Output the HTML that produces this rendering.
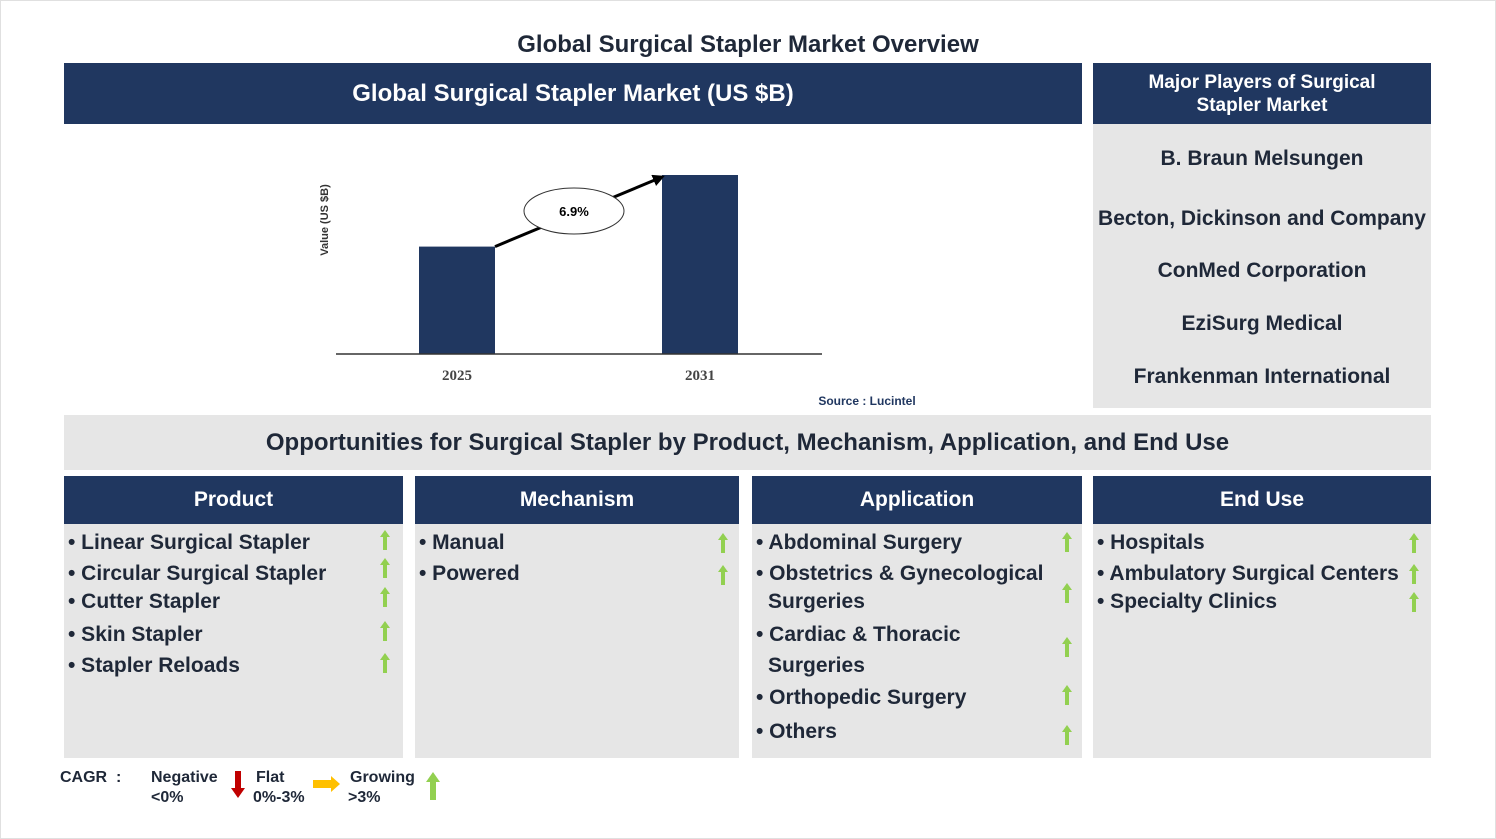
<!DOCTYPE html>
<html><head><meta charset="utf-8">
<style>
body{margin:0;width:1496px;height:839px;overflow:hidden;background:#fff;font-family:"Liberation Sans",Arial,sans-serif;}
#page{position:relative;width:1496px;height:839px;}
#border{position:absolute;left:0;top:0;width:1494px;height:837px;border:1px solid #e0e0e0;}
.a{position:absolute;}
.navy{background:#203760;color:#fff;font-weight:bold;display:flex;align-items:center;justify-content:center;text-align:center;}
.grey{background:#e6e6e6;}
.t{position:absolute;font-weight:bold;font-size:21px;color:#1f2838;white-space:nowrap;line-height:24px;transform:translateY(-12px);}
.c{text-align:center;}
.up{position:absolute;width:10px;height:20px;}
</style></head><body>
<div id="page">
<div id="border"></div>
<div class="a" style="left:0;width:1496px;top:31px;text-align:center;font-weight:bold;font-size:24px;color:#1f2838;">Global Surgical Stapler Market Overview</div>
<div class="a navy" style="left:64px;top:63px;width:1018px;height:61px;font-size:24px;">Global Surgical Stapler Market (US $B)</div>
<div class="a navy" style="left:1093px;top:63px;width:338px;height:61px;font-size:19px;line-height:23px;">Major Players of Surgical<br>Stapler Market</div>
<div class="a grey" style="left:1093px;top:124px;width:338px;height:284px;"></div>
<div class="t c" style="left:1093px;width:338px;top:159px;">B. Braun Melsungen</div>
<div class="t c" style="left:1093px;width:338px;top:219px;">Becton, Dickinson and Company</div>
<div class="t c" style="left:1093px;width:338px;top:271px;">ConMed Corporation</div>
<div class="t c" style="left:1093px;width:338px;top:324px;">EziSurg Medical</div>
<div class="t c" style="left:1093px;width:338px;top:377px;">Frankenman International</div>

<svg class="a" style="left:0;top:0" width="1496" height="420">
<defs><marker id="ah" markerWidth="4" markerHeight="4" refX="3" refY="2" orient="auto"><path d="M0,0 L4,2 L0,4 z" fill="#000"/></marker></defs>
<g id="chart"></g>
<text x="328" y="220" transform="rotate(-90 328 220)" text-anchor="middle" font-size="11" font-weight="bold" fill="#333" font-family="Liberation Sans">Value (US $B)</text>
<text x="867" y="405" text-anchor="middle" font-size="12" font-weight="bold" fill="#203760" font-family="Liberation Sans">Source : Lucintel</text>
</svg>

<div class="a grey" style="left:64px;top:415px;width:1367px;height:55px;display:flex;align-items:center;justify-content:center;font-weight:bold;font-size:24px;color:#1f2838;">Opportunities for Surgical Stapler by Product, Mechanism, Application, and End Use</div>

<div class="a navy" style="left:64px;top:476px;width:339px;height:48px;font-size:21px;">Product</div>
<div class="a navy" style="left:415px;top:476px;width:324px;height:48px;font-size:21px;">Mechanism</div>
<div class="a navy" style="left:752px;top:476px;width:330px;height:48px;font-size:21px;">Application</div>
<div class="a navy" style="left:1093px;top:476px;width:338px;height:48px;font-size:21px;">End Use</div>
<div class="a grey" style="left:64px;top:524px;width:339px;height:234px;"></div>
<div class="a grey" style="left:415px;top:524px;width:324px;height:234px;"></div>
<div class="a grey" style="left:752px;top:524px;width:330px;height:234px;"></div>
<div class="a grey" style="left:1093px;top:524px;width:338px;height:234px;"></div>
<div id="items"></div>

<div class="a" style="left:0;top:0;">
<div class="t" style="left:60px;top:778px;font-size:16px;">CAGR &nbsp;:</div>
<div class="t" style="left:151px;top:778px;font-size:16px;">Negative</div>
<div class="t" style="left:151px;top:798px;font-size:16px;">&lt;0%</div>
<svg class="a" style="left:231px;top:771px" width="14" height="28"><path d="M4,0 H10 V17 H14 L7,27 L0,17 H4 Z" fill="#c00000"/></svg>
<div class="t" style="left:256px;top:778px;font-size:16px;">Flat</div>
<div class="t" style="left:253px;top:798px;font-size:16px;">0%-3%</div>
<svg class="a" style="left:313px;top:776px" width="28" height="16"><path d="M0,4 H18 V0 L27,8 L18,16 V12 H0 Z" fill="#ffc000"/></svg>
<div class="t" style="left:350px;top:778px;font-size:16px;">Growing</div>
<div class="t" style="left:348px;top:798px;font-size:16px;">&gt;3%</div>
<svg class="a" style="left:426px;top:772px" width="14" height="28"><path d="M4,28 V10 H0 L7,0 L14,10 H10 V28 Z" fill="#92d050"/></svg>
</div>
</div>
<script>
const categories = ["2025","2031"];
const values = [3.6, 6.0];
const cagrLabel = "6.9%";
const yMax = 6.0;
const NS="http://www.w3.org/2000/svg";
const g=document.getElementById('chart');
const base=354, topY=175, x0=336, x1=822;
function y(v){return base-(v/yMax)*(base-topY);}
function xc(i){return 457+i*243;}
function mk(t,a){const e=document.createElementNS(NS,t);for(const k in a)e.setAttribute(k,a[k]);g.appendChild(e);return e;}
const bw=76;
values.forEach((v,i)=>{
  const r=mk('rect',{x:xc(i)-bw/2,y:y(v),width:bw,height:base-y(v),fill:'#203760'});
  
  
  const t=mk('text',{x:xc(i),y:base+26,'text-anchor':'middle','font-size':15,'font-weight':'bold',fill:'#444','font-family':'Liberation Serif'});
  t.textContent=categories[i];
  
  
});
const ax=mk('line',{x1:x0,x2:x1,y1:base,y2:base,stroke:'#333','stroke-width':1.5});


const ln=mk('line',{x1:xc(0)+bw/2,y1:y(values[0]),x2:xc(1)-bw/2,y2:y(values[1])+2,stroke:'#000','stroke-width':3,'marker-end':'url(#ah)'});


const el=mk('ellipse',{cx:574,cy:211,rx:50,ry:23,fill:'#fff',stroke:'#333','stroke-width':1});


const ct=mk('text',{x:574,y:216,'text-anchor':'middle','font-size':13,'font-weight':'bold',fill:'#000','font-family':'Liberation Sans'});
ct.textContent=cagrLabel;



const cols=[
 {x:68,ax:385,items:[["Linear Surgical Stapler",543],["Circular Surgical Stapler",574],["Cutter Stapler",602],["Skin Stapler",635],["Stapler Reloads",666]],arrows:[540,568,597,631,663]},
 {x:419,ax:723,items:[["Manual",543],["Powered",574]],arrows:[543,575]},
 {x:756,ax:1067,items:[["Abdominal Surgery",543],["Obstetrics & Gynecological",574],["  Surgeries",602,1],["Cardiac & Thoracic",635],["  Surgeries",666,1],["Orthopedic Surgery",698],["Others",732]],arrows:[542,593,647,695,735]},
 {x:1097,ax:1414,items:[["Hospitals",543],["Ambulatory Surgical Centers",574],["Specialty Clinics",602]],arrows:[543,574,602]}
];
const box=document.getElementById('items');
cols.forEach((c,ci)=>{
 c.items.forEach(it=>{
  const d=document.createElement('div');d.className='t';
  d.style.left=(it[2]?c.x+12:c.x)+'px';d.style.top=it[1]+'px';
  d.textContent=it[2]?it[0].trim():'• '+it[0];
  
  
  box.appendChild(d);
 });
 c.arrows.forEach(ay=>{
  const s=document.createElementNS(NS,'svg');s.setAttribute('class','up');
  s.setAttribute('width','10');s.setAttribute('height','20');
  s.style.left=(c.ax-5)+'px';s.style.top=(ay-10)+'px';
  s.innerHTML='<path d="M3,20 V7 H0 L5,0 L10,7 H7 V20 Z" fill="#92d050"/>';
  
  
  box.appendChild(s);
 });
});
</script>
</body></html>
